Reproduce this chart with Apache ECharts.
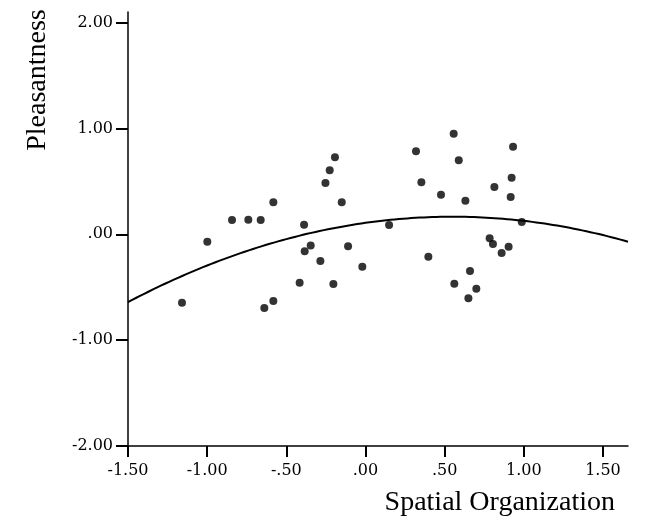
<!DOCTYPE html>
<html>
<head>
<meta charset="utf-8">
<script src="https://cdn.jsdelivr.net/npm/echarts@6/dist/echarts.min.js"></script>
<style>
  html, body { margin: 0; padding: 0; background: #fff; }
  #chart { width: 664px; height: 526px; }
</style>
</head>
<body>
<div id="chart"></div>
<script>
// Observations: spatial organization (x) vs. pleasantness (y)
const spatialOrg = [
  -1.159, -0.999, -0.843, -0.740, -0.662, -0.582, -0.639, -0.582, -0.388, -0.384,
  -0.346, -0.285, -0.416, -0.253, -0.226, -0.193, -0.150, -0.110, -0.203, -0.020,
   0.149,  0.319,  0.353,  0.557,  0.589,  0.477,  0.631,  0.397,  0.660,  0.561,
   0.700,  0.650,  0.814,  0.932,  0.923,  0.917,  0.987,  0.784,  0.805,  0.904,
   0.860
];
const pleasantness = [
  -0.646, -0.070,  0.135,  0.138,  0.135,  0.302, -0.697, -0.630,  0.091, -0.161,
  -0.107, -0.252, -0.457,  0.485,  0.605,  0.728,  0.302, -0.113, -0.470, -0.306,
   0.088,  0.784,  0.491,  0.951,  0.699,  0.374,  0.318, -0.211, -0.347, -0.467,
  -0.514, -0.605,  0.447,  0.828,  0.535,  0.353,  0.116, -0.038, -0.092, -0.117,
  -0.177
];

// Quadratic fit line coefficients: y = a + b*x + c*x^2
const fitCoef = [0.108, 0.211, -0.192];

// Axis ticks
const xTicks = [-1.5, -1.0, -0.5, 0.0, 0.5, 1.0, 1.5];
const yTicks = [-2.0, -1.0, 0.0, 1.0, 2.0];

const xTitle = 'Spatial Organization';
const yTitle = 'Pleasantness';

// "0.50" -> ".50", "-0.50" -> "-.50"
function fmt(v) {
  return v.toFixed(2).replace(/^(-?)0\./, '$1.');
}

const xMin = -1.5, xMax = 1.658, yMin = -2.0, yMax = 2.1;

// Evaluate the quadratic along the x range
const fitLine = [];
for (let i = 0; i <= 120; i++) {
  const x = xMin + (xMax - xMin) * i / 120;
  fitLine.push([x, fitCoef[0] + fitCoef[1] * x + fitCoef[2] * x * x]);
}

const points = spatialOrg.map((x, i) => [x, pleasantness[i]]);

const tickFont = { fontFamily: 'DejaVu Serif', fontSize: 16, color: '#000' };

const chart = echarts.init(document.getElementById('chart'), null, { renderer: 'canvas' });
chart.setOption({
  animation: false,
  backgroundColor: '#fff',
  grid: { left: 128, right: 36, top: 12, bottom: 80, containLabel: false },
  xAxis: {
    type: 'value',
    min: xMin, max: xMax,
    splitLine: { show: false },
    axisLine: { onZero: false, lineStyle: { color: '#000', width: 1.5 } },
    axisTick: { customValues: xTicks, length: 11, lineStyle: { color: '#000', width: 2 } },
    axisLabel: Object.assign({ customValues: xTicks, margin: 17, formatter: fmt }, tickFont)
  },
  yAxis: {
    type: 'value',
    min: yMin, max: yMax,
    splitLine: { show: false },
    axisLine: { onZero: false, lineStyle: { color: '#000', width: 1.5 } },
    axisTick: { customValues: yTicks, length: 12, lineStyle: { color: '#000', width: 2 } },
    axisLabel: Object.assign({ customValues: yTicks, margin: 15, formatter: fmt }, tickFont)
  },
  graphic: [
    {
      type: 'text', x: 615, y: 517,
      style: { text: xTitle, font: '28px "Liberation Serif"', fill: '#000',
               textAlign: 'right', textVerticalAlign: 'bottom' }
    },
    {
      type: 'text', x: 38, y: 80, rotation: Math.PI / 2,
      style: { text: yTitle, font: '28px "Liberation Serif"', fill: '#000',
               textAlign: 'center', textVerticalAlign: 'middle' }
    }
  ],
  series: [
    {
      type: 'line',
      data: fitLine,
      showSymbol: false,
      smooth: false,
      lineStyle: { color: '#000', width: 2 },
      z: 2
    },
    {
      type: 'scatter',
      data: points,
      symbol: 'circle',
      symbolSize: 8,
      itemStyle: { color: '#000' },
      z: 3
    }
  ]
});
</script>
</body>
</html>
